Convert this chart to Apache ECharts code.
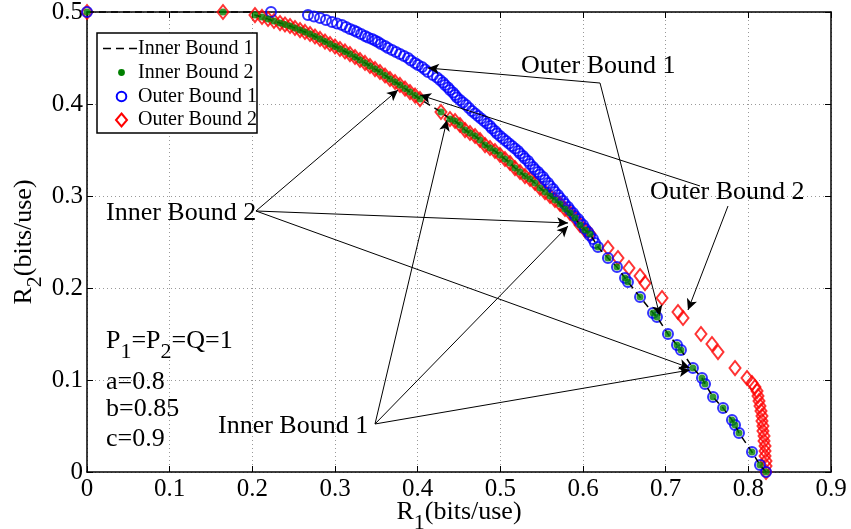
<!DOCTYPE html>
<html><head><meta charset="utf-8">
<script src="https://cdn.jsdelivr.net/npm/echarts@6/dist/echarts.min.js"></script>
<style>html,body{margin:0;padding:0;background:#fff}#c{width:851px;height:529px}</style>
</head><body><div id="c"></div>
<script>
// ---- tick labels ----
const xTickLabels = ['0','0.1','0.2','0.3','0.4','0.5','0.6','0.7','0.8','0.9'];
const yTickLabels = ['0','0.1','0.2','0.3','0.4','0.5'];

// ---- series names ----
const seriesNames = ['Inner Bound 1','Inner Bound 2','Outer Bound 1','Outer Bound 2'];

// ---- shared upper branch (inner bound 2 / outer bound 2 coincide there) ----
const upperBranchR1 = [0.2032,0.2117,0.2190,0.2262,0.2335,0.2395,0.2456,0.2516,0.2577,0.2637,0.2698,0.2758,0.2819,0.2879,0.2940,0.3000,0.3060,0.3121,0.3181,0.3242,0.3302,0.3363,0.3423,0.3484,0.3544,0.3605,0.3665,0.3726,0.3786,0.3847,0.3907,0.3968,0.4028,0.4282,0.4391,0.4452,0.4512,0.4573,0.4633,0.4694,0.4754,0.4815,0.4875,0.4935,0.4996,0.5056,0.5117,0.5177,0.5238,0.5298,0.5359,0.5419,0.5480,0.5540,0.5601,0.5661,0.5722,0.5782,0.5843,0.5903,0.5964,0.6024,0.6085];
const upperBranchR2 = [0.4967,0.4946,0.4924,0.4902,0.4880,0.4864,0.4848,0.4826,0.4804,0.4783,0.4761,0.4734,0.4707,0.4679,0.4652,0.4625,0.4598,0.4571,0.4543,0.4511,0.4478,0.4446,0.4413,0.4380,0.4348,0.4310,0.4272,0.4239,0.4207,0.4168,0.4130,0.4092,0.4054,0.3913,0.3837,0.3815,0.3772,0.3717,0.3685,0.3652,0.3609,0.3554,0.3522,0.3489,0.3446,0.3402,0.3359,0.3304,0.3261,0.3217,0.3185,0.3141,0.3087,0.3043,0.3000,0.2957,0.2913,0.2859,0.2815,0.2761,0.2685,0.2630,0.2587];

// ---- lower branch (inner bounds / outer bound 1 coincide there) ----
const lowerBranchR1 = [0.6181,0.6302,0.6411,0.6508,0.6544,0.6690,0.6847,0.6895,0.7028,0.7137,0.7185,0.7330,0.7439,0.7476,0.7573,0.7694,0.7802,0.7839,0.7887,0.8044,0.8141,0.8214];
const lowerBranchR2 = [0.2446,0.2326,0.2228,0.2109,0.2065,0.1902,0.1728,0.1685,0.1500,0.1380,0.1326,0.1130,0.1022,0.0957,0.0815,0.0696,0.0565,0.0511,0.0424,0.0217,0.0076,0];

// ---- Inner Bound 1 (dashed line) ----
const innerBound1StartR1 = [0,0.1970];
const innerBound1StartR2 = [0.5,0.5];

// ---- Inner Bound 2 (green dots) ----
const innerBound2StartR1 = [0,0.1645];
const innerBound2StartR2 = [0.5,0.5];

// ---- Outer Bound 1 (blue circles), upper part ----
const outerBound1R1 = [0,0.2226,0.2673,0.2746,0.2819,0.2891,0.2964,0.3024,0.3085,0.3133,0.3181,0.3230,0.3266,0.3315,0.3363,0.3399,0.3448,0.3484,0.3520,0.3556,0.3605,0.3641,0.3690,0.3738,0.3786,0.3835,0.3883,0.3919,0.3968,0.4004,0.4052,0.4089,0.4125,0.4185,0.4234,0.4270,0.4306,0.4331,0.4367,0.4391,0.4427,0.4452,0.4476,0.4512,0.4548,0.4585,0.4621,0.4657,0.4694,0.4730,0.4766,0.4802,0.4839,0.4875,0.4899,0.4935,0.4960,0.4996,0.5032,0.5069,0.5105,0.5141,0.5177,0.5214,0.5238,0.5274,0.5298,0.5335,0.5359,0.5395,0.5419,0.5456,0.5480,0.5516,0.5540,0.5577,0.5601,0.5637,0.5661,0.5697,0.5722,0.5758,0.5782,0.5819,0.5843,0.5879,0.5903,0.5940,0.5964,0.6000,0.6024,0.6061,0.6085,0.6121,0.6145];
const outerBound1R2 = [0.5,0.5,0.4967,0.4951,0.4935,0.4913,0.4891,0.4875,0.4859,0.4837,0.4815,0.4799,0.4783,0.4761,0.4739,0.4723,0.4707,0.4690,0.4674,0.4652,0.4630,0.4609,0.4587,0.4565,0.4543,0.4522,0.4500,0.4473,0.4446,0.4424,0.4402,0.4375,0.4348,0.4315,0.4288,0.4261,0.4234,0.4207,0.4179,0.4152,0.4125,0.4098,0.4071,0.4043,0.4016,0.3989,0.3957,0.3924,0.3897,0.3870,0.3842,0.3815,0.3788,0.3761,0.3734,0.3707,0.3679,0.3652,0.3625,0.3598,0.3571,0.3543,0.3516,0.3489,0.3462,0.3435,0.3408,0.3380,0.3348,0.3315,0.3288,0.3261,0.3234,0.3207,0.3174,0.3141,0.3109,0.3076,0.3043,0.3011,0.2978,0.2946,0.2913,0.2880,0.2848,0.2815,0.2783,0.2750,0.2717,0.2685,0.2647,0.2609,0.2571,0.2533,0.2489];

// ---- Outer Bound 2 (red diamonds), outer part ----
const outerBound2R1 = [0.6302,0.6423,0.6556,0.6690,0.6750,0.6956,0.7149,0.7210,0.7427,0.7560,0.7633,0.7839,0.7984,0.8044,0.8080,0.8105,0.8117,0.8129,0.8141,0.8153,0.8165,0.8165,0.8177,0.8177,0.8190,0.8190,0.8202,0.8202,0.8202,0.8214,0.8214,0.8214];
const outerBound2R2 = [0.2435,0.2326,0.2217,0.2130,0.2054,0.1891,0.1739,0.1674,0.1500,0.1391,0.1304,0.1130,0.1022,0.0967,0.0924,0.0880,0.0826,0.0772,0.0717,0.0663,0.0609,0.0554,0.0500,0.0446,0.0391,0.0337,0.0283,0.0228,0.0174,0.0120,0.0065,0];

// ---- annotation arrows: [fromR1, fromR2, toR1, toR2] in data units ----
const annotationArrows = [
  [0.6206,0.4228,0.4125,0.4391],
  [0.6206,0.4228,0.6931,0.1696],
  [0.7415,0.3109,0.4028,0.4098],
  [0.7754,0.2891,0.7270,0.1761],
  [0.2044,0.2837,0.3762,0.4152],
  [0.2044,0.2837,0.5819,0.2707],
  [0.2044,0.2837,0.7294,0.1130],
  [0.3484,0.0522,0.4355,0.3826],
  [0.3484,0.0522,0.5819,0.2674],
  [0.3484,0.0522,0.7294,0.1109]
];
const annotationLabels = ['Outer Bound 1','Outer Bound 2','Inner Bound 2','Inner Bound 1'];
const parameterLines = ['{m|P}{s|1}{m|=P}{s|2}{m|=Q=1}','a=0.8','b=0.85','c=0.9'];

const FONT = '"Liberation Serif", "Times New Roman", serif';
const zip = (a, b) => a.map((v, i) => [v, b[i]]);

const innerBound1Data = zip(innerBound1StartR1, innerBound1StartR2)
  .concat(zip(upperBranchR1, upperBranchR2), zip(lowerBranchR1, lowerBranchR2));
const innerBound2Data = zip(innerBound2StartR1, innerBound2StartR2)
  .concat(zip(upperBranchR1, upperBranchR2), zip(lowerBranchR1, lowerBranchR2));
const outerBound1Data = zip(outerBound1R1, outerBound1R2).concat(zip(lowerBranchR1, lowerBranchR2));
const outerBound2Data = zip(innerBound2StartR1, innerBound2StartR2)
  .concat(zip(upperBranchR1, upperBranchR2), zip(outerBound2R1, outerBound2R2));

const chart = echarts.init(document.getElementById('c'), null, {renderer: 'canvas'});

const subRich = (size, subSize) => ({
  m: {fontFamily: FONT, fontSize: size, lineHeight: size, color: '#000'},
  s: {fontFamily: FONT, fontSize: subSize, lineHeight: subSize, color: '#000', padding: [subSize, 0, 0, 0]}
});

const axisCommon = {
  type: 'value',
  axisLine: {show: true, onZero: false, lineStyle: {color: '#000', width: 1.5}},
  axisTick: {show: true, inside: true, length: 6, lineStyle: {color: '#000', width: 1}},
};

const txt = (x, y, text, size) => ({
  type: 'text', z: 30, x: x, y: y,
  style: {text: text, font: size + 'px ' + FONT, fill: '#000', align: 'left', verticalAlign: 'middle'}
});

const option = {
  animation: false,
  backgroundColor: '#fff',
  grid: {left: 87, right: 20, top: 12, bottom: 57, containLabel: false, outerBoundsMode: 'none'},
  xAxis: [
    Object.assign({}, axisCommon, {
      min: 0, max: 0.9, interval: 0.1, position: 'bottom',
      axisLabel: {fontFamily: FONT, fontSize: 25, color: '#000', margin: 5,
        formatter: v => xTickLabels[Math.round(v * 10)]},
      splitLine: {show: true, lineStyle: {color: '#999', width: 1, type: [1, 3]}},
      name: '{m|R}{s|1}{m|(bits/use)}', nameLocation: 'middle', nameGap: 27, nameMoveOverlap: false,
      nameTextStyle: {rich: subRich(26, 22)}
    }),
    Object.assign({}, axisCommon, {
      min: 0, max: 0.9, interval: 0.1, position: 'top',
      axisLabel: {show: false}, splitLine: {show: false}
    })
  ],
  yAxis: [
    Object.assign({}, axisCommon, {
      min: 0, max: 0.5, interval: 0.1, position: 'left',
      axisLabel: {fontFamily: FONT, fontSize: 25, color: '#000', margin: 4,
        formatter: v => yTickLabels[Math.round(v * 10)]},
      splitLine: {show: true, lineStyle: {color: '#999', width: 1, type: [1, 3]}},
      name: '{m|R}{s|2}{m|(bits/use)}', nameLocation: 'middle', nameGap: 50, nameRotate: 90, nameMoveOverlap: false,
      nameTextStyle: {rich: subRich(26, 22)}
    }),
    Object.assign({}, axisCommon, {
      min: 0, max: 0.5, interval: 0.1, position: 'right',
      axisLabel: {show: false}, splitLine: {show: false}
    })
  ],
  graphic: [
    // legend box
    {type: 'rect', z: 25, shape: {x: 97, y: 33, width: 160, height: 100},
      style: {fill: '#fff', stroke: '#000', lineWidth: 1.5}},
    {type: 'line', z: 30, shape: {x1: 103, y1: 48.5, x2: 137, y2: 48.5},
      style: {stroke: '#000', lineWidth: 1.5, lineDash: [8, 5]}},
    txt(138, 48.5, seriesNames[0], 20),
    {type: 'circle', z: 30, shape: {cx: 121.5, cy: 72.5, r: 3.4}, style: {fill: '#008000'}},
    txt(138, 72.5, seriesNames[1], 20),
    {type: 'circle', z: 30, shape: {cx: 121.5, cy: 96.5, r: 4.8}, style: {fill: 'none', stroke: '#0000ff', lineWidth: 2}},
    txt(138, 96.5, seriesNames[2], 20),
    {type: 'polygon', z: 30, shape: {points: [[121.5, 113.5], [127, 120], [121.5, 126.5], [116, 120]]},
      style: {fill: 'none', stroke: '#ff0000', lineWidth: 2}},
    txt(138, 120, seriesNames[3], 20),
    // annotations
    txt(521, 66.5, annotationLabels[0], 26),
    txt(650, 192, annotationLabels[1], 26),
    txt(106, 213.5, annotationLabels[2], 26),
    txt(218, 426, annotationLabels[3], 26),
    {type: 'text', z: 30, x: 106, y: 341.5, style: {text: parameterLines[0], rich: subRich(26, 22), align: 'left', verticalAlign: 'middle'}},
    txt(106, 382.5, parameterLines[1], 26),
    txt(106, 409.5, parameterLines[2], 26),
    txt(106, 439, parameterLines[3], 26)
  ],
  series: [
    {
      name: seriesNames[3], type: 'scatter', clip: false, z: 2,
      data: outerBound2Data,
      symbol: 'diamond', symbolSize: [11, 14],
      itemStyle: {color: 'rgba(0,0,0,0)', borderColor: '#ff0000', borderWidth: 2},
      emphasis: {disabled: true}
    },
    {
      name: seriesNames[2], type: 'scatter', clip: false, z: 3,
      data: outerBound1Data,
      symbol: 'circle', symbolSize: 10,
      itemStyle: {color: 'rgba(0,0,0,0)', borderColor: '#0000ff', borderWidth: 2},
      emphasis: {disabled: true}
    },
    {
      name: seriesNames[0], type: 'line', clip: false, z: 4,
      data: innerBound1Data,
      symbol: 'none', smooth: false,
      lineStyle: {color: '#000', width: 1.5, type: [7, 5]},
      itemStyle: {color: '#000'},
      emphasis: {disabled: true}
    },
    {
      name: seriesNames[1], type: 'scatter', clip: false, z: 5,
      data: innerBound2Data,
      symbol: 'circle', symbolSize: 7,
      itemStyle: {color: '#008000', borderWidth: 0},
      emphasis: {disabled: true}
    },
    {
      name: 'annotations', type: 'line', data: [], z: 6, silent: true,
      markLine: {
        silent: true, animation: false,
        symbol: ['none', 'arrow'], symbolSize: [8, 11],
        label: {show: false},
        lineStyle: {color: '#000', width: 1, type: 'solid'},
        emphasis: {disabled: true},
        data: annotationArrows.map(a => [
          {coord: [a[0], a[1]]},
          {coord: [a[2], a[3]]}
        ])
      }
    }
  ]
};
chart.setOption(option);
</script>
</body></html>
